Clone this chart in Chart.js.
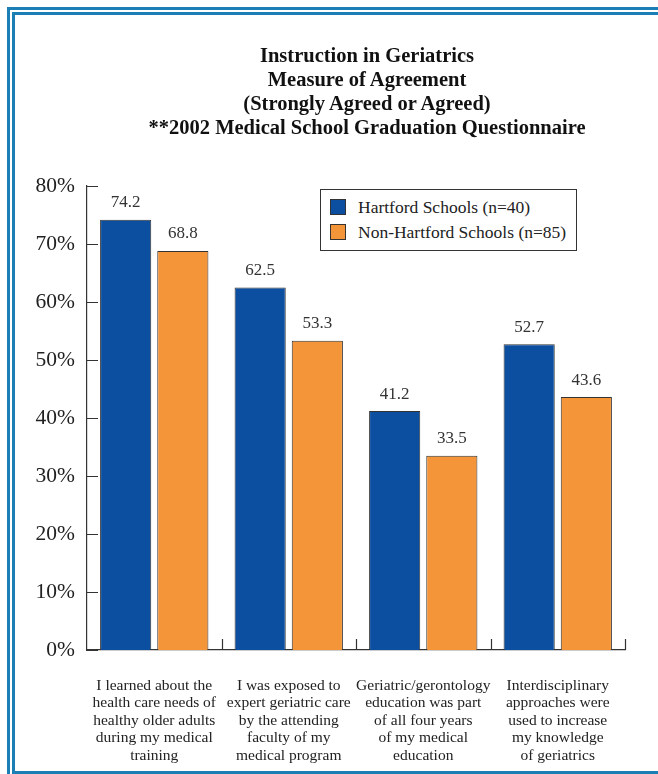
<!DOCTYPE html>
<html>
<head>
<meta charset="utf-8">
<script src="https://cdn.jsdelivr.net/npm/chart.js@4.4.0/dist/chart.umd.min.js"></script>
<style>
  html, body { margin: 0; padding: 0; background: #fff; overflow: hidden; }
  body { width: 658px; height: 774px; position: relative; font-family: 'Liberation Serif', 'Times New Roman', serif; }
  .frame { position: absolute; border: 3px solid #1b7fb6; box-sizing: content-box; }
  #outer { left: 7px; top: 7px; width: 1000px; height: 1000px; }
  #inner { left: 12px; top: 12px; width: 1000px; height: 756px; }
  #chart { position: absolute; left: 0; top: 0; }
  #title { position: absolute; left: 117px; top: 43px; width: 500px; text-align: center;
           font-weight: bold; font-size: 20.5px; line-height: 24px; color: #111; }
  #legend { position: absolute; left: 320px; top: 189px; width: 255px; height: 60px;
            border: 1.5px solid #333; background: #fff; }
  .item { position: absolute; left: 9px; height: 16px; font-size: 17.5px; color: #222; white-space: nowrap; }
  .item span.sw { position: absolute; left: 0; top: 0; width: 14px; height: 14px; border: 1px solid #333; }
  .item span.tx { position: absolute; left: 28px; top: -3px; line-height: 22px; }
</style>
</head>
<body>
<div class="frame" id="outer"></div>
<div class="frame" id="inner"></div>
<canvas id="chart" width="658" height="774"></canvas>
<div id="title"></div>
<div id="legend"></div>
<script>
// chart text
const titleLines = [
  'Instruction in Geriatrics',
  'Measure of Agreement',
  '(Strongly Agreed or Agreed)',
  '**2002 Medical School Graduation Questionnaire'
];

const categories = [
  ['I learned about the', 'health care needs of', 'healthy older adults', 'during my medical', 'training'],
  ['I was exposed to', 'expert geriatric care', 'by the attending', 'faculty of my', 'medical program'],
  ['Geriatric/gerontology', 'education was part', 'of all four years', 'of my medical', 'education'],
  ['Interdisciplinary', 'approaches were', 'used to increase', 'my knowledge', 'of geriatrics']
];

const seriesNames = ['Hartford Schools (n=40)', 'Non-Hartford Schools (n=85)'];
const hartford = [74.2, 62.5, 41.2, 52.7];
const nonHartford = [68.8, 53.3, 33.5, 43.6];
const yTicks = [0, 10, 20, 30, 40, 50, 60, 70, 80];

const colors = ['#0c4fa0', '#f5953a'];

document.getElementById('title').innerHTML = titleLines.join('<br>');

const legendBox = document.getElementById('legend');
seriesNames.forEach((name, i) => {
    const item = document.createElement('div');
    item.className = 'item';
    item.style.top = (9 + i * 25) + 'px';
    item.innerHTML = '<span class="sw" style="background:' + colors[i] + '"></span><span class="tx">' + name + '</span>';
    legendBox.appendChild(item);
});

// value labels above bars
const valueLabels = {
    id: 'valueLabels',
    afterDatasetsDraw(chart) {
        const ctx = chart.ctx;
        ctx.save();
        ctx.font = '17px "Liberation Serif"';
        ctx.fillStyle = '#333';
        ctx.textAlign = 'center';
        ctx.textBaseline = 'middle';
        chart.data.datasets.forEach((ds, di) => {
            chart.getDatasetMeta(di).data.forEach((bar, i) => {
                ctx.fillText(ds.data[i].toFixed(1), bar.x, bar.y - 17);
            });
        });
        ctx.restore();
    }
};

// small tick marks pointing into the plot
const innerTicks = {
    id: 'innerTicks',
    afterDraw(chart) {
        const ctx = chart.ctx;
        const y = chart.scales.y;
        const x = chart.scales.x;
        const area = chart.chartArea;
        ctx.save();
        ctx.strokeStyle = '#333';
        ctx.lineWidth = 1.2;
        ctx.beginPath();
        yTicks.forEach(v => {
            const py = Math.round(y.getPixelForValue(v)) + 0.5;
            ctx.moveTo(area.left, py);
            ctx.lineTo(area.left + 11, py);
        });
        const n = categories.length;
        for (let i = 1; i <= n; i++) {
            let px;
            if (i === n) px = area.right;
            else px = (x.getPixelForValue(i - 1) + x.getPixelForValue(i)) / 2;
            px = Math.round(px) + 0.5;
            ctx.moveTo(px, area.bottom);
            ctx.lineTo(px, area.bottom - 11);
        }
        ctx.stroke();
        ctx.restore();
    }
};

new Chart(document.getElementById('chart'), {
    type: 'bar',
    data: {
        labels: categories,
        datasets: [
            { label: seriesNames[0], data: hartford, backgroundColor: colors[0], borderColor: '#333', borderWidth: 1 },
            { label: seriesNames[1], data: nonHartford, backgroundColor: colors[1], borderColor: '#333', borderWidth: 1 }
        ]
    },
    options: {
        responsive: false,
        animation: false,
        layout: { padding: { left: 0, right: 33, top: 186, bottom: 0 } },
        datasets: { bar: { categoryPercentage: 0.85, barPercentage: 0.895 } },
        plugins: {
            legend: { display: false },
            tooltip: { enabled: false }
        },
        scales: {
            x: {
                grid: { display: false, drawTicks: false },
                border: { color: '#333', width: 1.2 },
                ticks: {
                    padding: 27,
                    color: '#222',
                    maxRotation: 0,
                    autoSkip: false,
                    font: { family: 'Liberation Serif', size: 15.5, lineHeight: 1.13 }
                },
                afterFit(scale) { scale.height = 124; }
            },
            y: {
                min: 0,
                max: 80,
                afterBuildTicks(scale) { scale.ticks = yTicks.map(v => ({ value: v })); },
                grid: { display: false, drawTicks: false },
                border: { color: '#333', width: 1.2 },
                ticks: {
                    padding: 12,
                    color: '#222',
                    font: { family: 'Liberation Serif', size: 21.5 },
                    callback: v => v + '%'
                },
                afterFit(scale) { scale.width = 87; }
            }
        }
    },
    plugins: [valueLabels, innerTicks]
});
</script>
</body>
</html>
